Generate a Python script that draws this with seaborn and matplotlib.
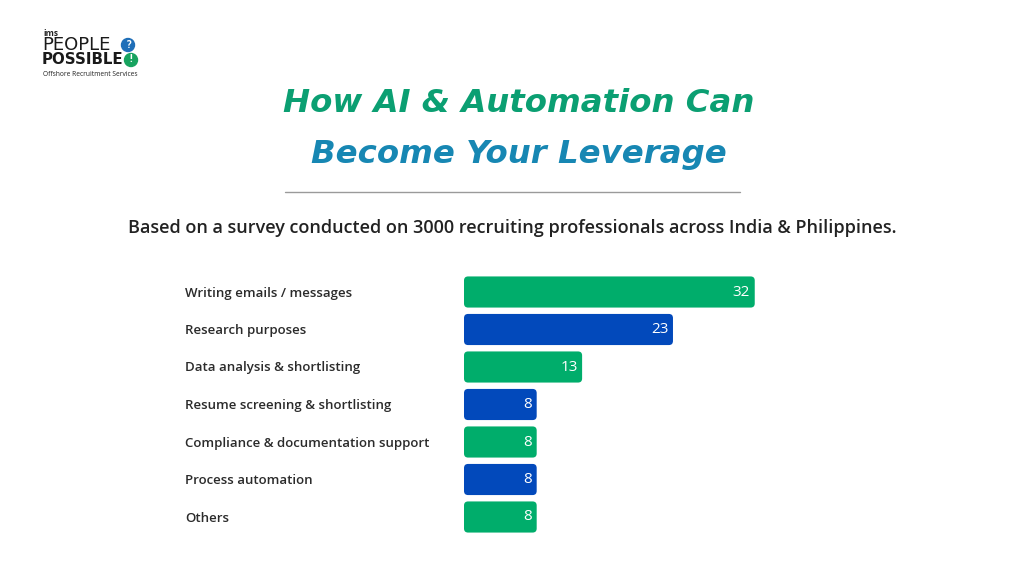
import matplotlib
matplotlib.use("Agg")
import matplotlib.pyplot as plt
from matplotlib.patches import FancyBboxPatch, Ellipse
import seaborn as sns
import pandas as pd

# ==========================================================
# Data
# ==========================================================

categories = [
    "Writing emails / messages",
    "Research purposes",
    "Data analysis & shortlisting",
    "Resume screening & shortlisting",
    "Compliance & documentation support",
    "Process automation",
    "Others",
]
values = [32, 23, 13, 8, 8, 8, 8]

GREEN = "#00ad6b"
BLUE = "#0249bb"
bar_colors = [GREEN, BLUE, GREEN, BLUE, GREEN, BLUE, GREEN]

df = pd.DataFrame({"task": categories, "share": values})

sns.set_theme(style="white")
plt.rcParams["font.family"] = ["Open Sans", "DejaVu Sans"]

fig = plt.figure(figsize=(10.24, 5.76), dpi=100)
fig.patch.set_facecolor("white")

# ==========================================================
# Bar chart
# ==========================================================

ax = fig.add_axes([464 / 1024, 1 - 535.75 / 576, 318 / 1024, 262.5 / 576])
sns.barplot(data=df, x="share", y="task", hue="task", palette=bar_colors,
            saturation=1, legend=False, width=0.83, ax=ax, orient="h")
ax.set_xlim(0, 35)
ax.set_ylim(6.5, -0.5)
ax.axis("off")

# rounded bar corners
px_x = 318 / 35
px_y = 262.5 / 7
for patch in list(ax.patches):
    x0, y0 = patch.get_x(), patch.get_y()
    w, h = patch.get_width(), patch.get_height()
    fc = patch.get_facecolor()
    patch.remove()
    ax.add_patch(FancyBboxPatch(
        (x0, y0), w, h,
        boxstyle="round,pad=0,rounding_size=0.45",
        mutation_aspect=px_x / px_y,
        facecolor=fc, edgecolor="none"))

for i, v in enumerate(values):
    ax.text(v - 0.5, i, str(v), color="white", fontsize=11,
            ha="right", va="center")

# category labels on the left
for i, name in enumerate(categories):
    y = 1 - (293 + 37.5 * i) / 576
    fig.text(185 / 1024, y, name, fontsize=9.5, fontweight="semibold",
             color="#2b2b2b", ha="left", va="center")

# ==========================================================
# Titles
# ==========================================================

fig.text(0.507, 1 - 103 / 576, "How AI & Automation Can", fontsize=23.3,
         fontweight="bold", fontstyle="italic", color="#0b9f72",
         family="DejaVu Sans", ha="center", va="center")
fig.text(0.507, 1 - 154 / 576, "Become Your Leverage", fontsize=23.3,
         fontweight="bold", fontstyle="italic", color="#1787b3",
         family="DejaVu Sans", ha="center", va="center")

fig.add_artist(plt.Line2D([285 / 1024, 740 / 1024], [1 - 192 / 576] * 2,
                          color="#9a9a9a", linewidth=1))

fig.text(0.5, 1 - 228 / 576,
         "Based on a survey conducted on 3000 recruiting professionals across India & Philippines.",
         fontsize=13, fontweight="semibold", color="#222222",
         ha="center", va="center")

# ==========================================================
# Logo
# ==========================================================

fig.text(43 / 1024, 1 - 33 / 576, "ims", fontsize=6, fontweight="bold",
         color="#222222", ha="left", va="center")
fig.text(42 / 1024, 1 - 45 / 576, "PEOPLE", fontsize=13, family="DejaVu Sans",
         color="#1a1a1a", ha="left", va="center")
fig.text(42 / 1024, 1 - 60 / 576, "POSSIBLE", fontsize=10.8, fontweight="bold",
         family="DejaVu Sans", color="#1a1a1a", ha="left", va="center")
fig.text(43 / 1024, 1 - 74 / 576, "Offshore Recruitment Services", fontsize=4.8,
         color="#222222", ha="left", va="center")
fig.add_artist(Ellipse((128 / 1024, 1 - 45 / 576), 13 / 1024, 13 / 576,
                       transform=fig.transFigure, color="#1f6fb8"))
fig.text(128 / 1024, 1 - 45 / 576, "?", fontsize=7, fontweight="bold",
         color="white", ha="center", va="center")
fig.add_artist(Ellipse((131 / 1024, 1 - 60 / 576), 13 / 1024, 13 / 576,
                       transform=fig.transFigure, color="#17a35f"))
fig.text(131 / 1024, 1 - 60 / 576, "!", fontsize=7, fontweight="bold",
         color="white", ha="center", va="center")

fig.savefig("out.png", dpi=100, facecolor="white")
